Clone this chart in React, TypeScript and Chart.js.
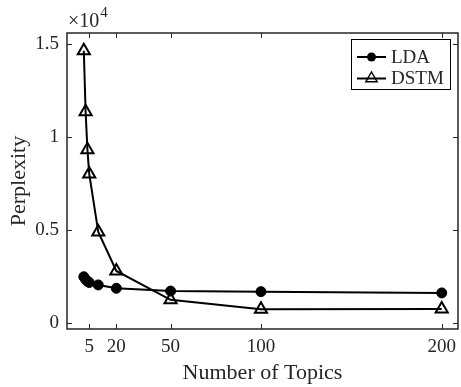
import React, { useEffect, useRef } from "react";
import { Chart, registerables } from "chart.js";

Chart.register(...registerables);

const topics = [2, 3, 4, 5, 10, 20, 50, 100, 200];
const ldaPerplexity = [2490, 2350, 2250, 2180, 2050, 1870, 1720, 1690, 1620];
const dstmPerplexity = [14650, 11360, 9320, 8020, 4900, 2800, 1250, 740, 750];
const xTicks = [5, 20, 50, 100, 200];
const yTicks = [0, 5000, 10000, 15000];
const xLabel = "Number of Topics";
const yLabel = "Perplexity";
const seriesNames = ["LDA", "DSTM"];
const exponentBase = "\u00d710";
const exponentPower = "4";

const INK = "#262626";
const FONT = "'Liberation Serif', 'Times New Roman', serif";

const framePlugin = {
  id: "frame",
  afterDraw(chart: any) {
    const { ctx, chartArea: a, scales } = chart;
    const xs = scales.x;
    const ys = scales.y;
    ctx.save();
    ctx.strokeStyle = INK;
    ctx.lineWidth = 1;
    const tl = 5;
    ctx.beginPath();
    xTicks.forEach((v) => {
      const px = Math.round(xs.getPixelForValue(v)) + 0.5;
      ctx.moveTo(px, a.bottom);
      ctx.lineTo(px, a.bottom - tl);
      ctx.moveTo(px, a.top);
      ctx.lineTo(px, a.top + tl);
    });
    yTicks.forEach((v) => {
      const py = Math.round(ys.getPixelForValue(v)) + 0.5;
      ctx.moveTo(a.left, py);
      ctx.lineTo(a.left + tl, py);
      ctx.moveTo(a.right, py);
      ctx.lineTo(a.right - tl, py);
    });
    ctx.stroke();
    ctx.lineWidth = 1.5;
    ctx.strokeRect(a.left, a.top, a.right - a.left, a.bottom - a.top);

    ctx.fillStyle = INK;
    ctx.textBaseline = "alphabetic";
    ctx.textAlign = "left";
    ctx.font = `20px ${FONT}`;
    ctx.fillText(exponentBase, a.left + 1, a.top - 6);
    const w = ctx.measureText(exponentBase).width;
    ctx.font = `15px ${FONT}`;
    ctx.fillText(exponentPower, a.left + 1 + w + 1, a.top - 16);

    const lx = 351.5, ly = 39.5, lw = 99, lh = 50;
    ctx.fillStyle = "#ffffff";
    ctx.fillRect(lx, ly, lw, lh);
    ctx.strokeStyle = "#000000";
    ctx.lineWidth = 1;
    ctx.strokeRect(lx, ly, lw, lh);
    const rows = [57, 78.5];
    chart.data.datasets.forEach((ds: any, i: number) => {
      const y = rows[i];
      ctx.strokeStyle = "#000";
      ctx.lineWidth = 2;
      ctx.beginPath();
      ctx.moveTo(357, y);
      ctx.lineTo(386, y);
      ctx.stroke();
      const cx = 371.5;
      ctx.beginPath();
      if (ds.pointStyle === "circle") {
        ctx.arc(cx, y, 4.5, 0, Math.PI * 2);
        ctx.fillStyle = "#000";
        ctx.fill();
      } else {
        const r = 6.5;
        ctx.lineWidth = 1.5;
        ctx.moveTo(cx, y - r);
        ctx.lineTo(cx + r * 0.866, y + r * 0.5);
        ctx.lineTo(cx - r * 0.866, y + r * 0.5);
        ctx.closePath();
        ctx.stroke();
      }
      ctx.fillStyle = INK;
      ctx.font = `19px ${FONT}`;
      ctx.textBaseline = "middle";
      ctx.textAlign = "left";
      ctx.fillText(ds.label, 391, y + 1);
    });
    ctx.restore();
  },
};

export default function App() {
  const ref = useRef<HTMLCanvasElement | null>(null);
  useEffect(() => {
    if (!ref.current) return;
    const chart = new Chart(ref.current, {
      type: "line",
      data: {
        datasets: [
          {
            label: seriesNames[0],
            data: topics.map((t, i) => ({ x: t, y: ldaPerplexity[i] })),
            borderColor: "#000",
            backgroundColor: "#000",
            borderWidth: 2,
            pointStyle: "circle",
            pointRadius: 5,
            pointBorderWidth: 1,
            pointBackgroundColor: "#000",
            pointBorderColor: "#000",
            tension: 0,
          },
          {
            label: seriesNames[1],
            data: topics.map((t, i) => ({ x: t, y: dstmPerplexity[i] })),
            borderColor: "#000",
            backgroundColor: "rgba(0,0,0,0)",
            borderWidth: 2,
            pointStyle: "triangle",
            pointRadius: 7,
            pointBorderWidth: 2,
            pointBackgroundColor: "rgba(0,0,0,0)",
            pointBorderColor: "#000",
            tension: 0,
          },
        ],
      },
      options: {
        animation: false,
        responsive: false,
        devicePixelRatio: 1,
        layout: { padding: { top: 33, right: 8, left: 0, bottom: 0 } },
        plugins: { legend: { display: false }, tooltip: { enabled: false } },
        scales: {
          x: {
            type: "linear",
            min: -7.3,
            max: 209,
            afterBuildTicks: (s: any) => {
              s.ticks = xTicks.map((v) => ({ value: v }));
            },
            afterFit: (s: any) => {
              s.height = 58;
              s.paddingLeft = 0;
              s.paddingRight = 0;
            },
            grid: { display: false, drawTicks: false },
            border: { display: false },
            ticks: {
              color: INK,
              font: { family: FONT, size: 19 },
              padding: 7,
              maxRotation: 0,
              autoSkip: false,
            },
            title: {
              display: true,
              text: xLabel,
              color: INK,
              font: { family: FONT, size: 22 },
              padding: { top: 0, bottom: 1 },
            },
          },
          y: {
            type: "linear",
            min: -320,
            max: 15600,
            afterBuildTicks: (s: any) => {
              s.ticks = yTicks.map((v) => ({ value: v }));
            },
            afterFit: (s: any) => {
              s.width = 67;
              s.paddingTop = 0;
              s.paddingBottom = 0;
            },
            grid: { display: false, drawTicks: false },
            border: { display: false },
            ticks: {
              color: INK,
              font: { family: FONT, size: 19 },
              padding: 8,
              callback: (v: any) => String(Number(v) / 10000),
            },
            title: {
              display: true,
              text: yLabel,
              color: INK,
              font: { family: FONT, size: 22 },
              padding: { top: 6, bottom: 0 },
            },
          },
        },
      },
      plugins: [framePlugin],
    });
    return () => chart.destroy();
  }, []);
  return (
    <div style={{ position: "fixed", left: 0, top: 0, width: 461, height: 387, overflow: "hidden", background: "#fff" }}>
      <canvas ref={ref} width={467} height={387} style={{ width: 467, height: 387, display: "block" }} />
    </div>
  );
}
